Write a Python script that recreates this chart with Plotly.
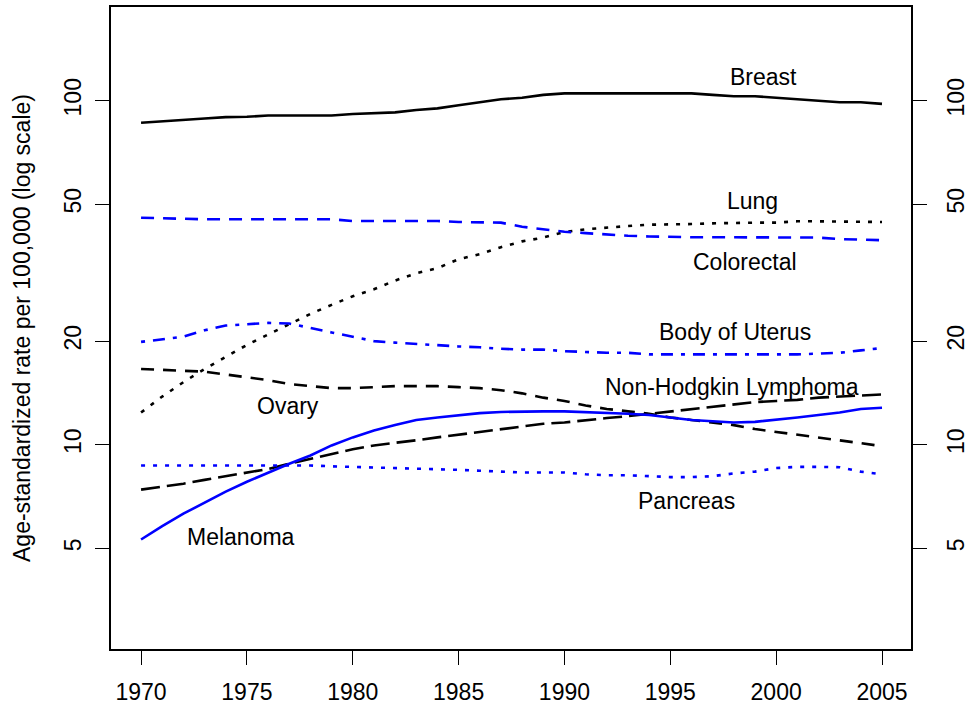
import math
import plotly.graph_objects as go

years = list(range(1970, 2006))

breast = [86.3, 87.0, 88.0, 88.8, 89.6, 89.8, 90.6, 90.6, 90.6, 90.6, 91.5, 91.8, 92.5, 94.0, 95.0,
          97.0, 99.0, 101.0, 102.0, 104.0, 105.0, 105.0, 105.0, 105.0, 105.0, 105.0, 105.0, 104.0,
          103.0, 103.0, 102.0, 101.0, 100.0, 99.0, 99.0, 97.9]
lung = [12.4, 13.8, 15.2, 16.6, 18.0, 19.5, 20.9, 22.4, 24.0, 25.5, 27.0, 28.3, 30.0, 31.5, 32.6,
        34.6, 35.8, 37.5, 39.0, 40.0, 41.5, 42.3, 42.8, 43.2, 43.6, 43.6, 43.8, 44.0, 44.2, 44.2,
        44.2, 44.6, 44.6, 44.6, 44.6, 44.4]
colorectal = [45.7, 45.5, 45.2, 45.2, 45.2, 45.2, 45.2, 45.2, 45.2, 45.2, 44.7, 44.7, 44.7, 44.7, 44.7,
              44.4, 44.2, 44.2, 43.0, 42.2, 41.6, 41.2, 40.8, 40.5, 40.3, 40.1, 40.1, 40.1, 40.1, 40.1,
              40.1, 40.0, 40.0, 39.6, 39.4, 39.3]
uterus = [19.9, 20.2, 20.6, 21.5, 22.2, 22.4, 22.6, 22.5, 21.8, 21.2, 20.6, 20.0, 19.8, 19.6, 19.4,
          19.3, 19.2, 19.0, 18.9, 18.9, 18.7, 18.6, 18.5, 18.5, 18.3, 18.3, 18.3, 18.3, 18.3, 18.3,
          18.3, 18.3, 18.4, 18.5, 18.8, 19.1]
ovary = [16.6, 16.5, 16.4, 16.3, 16.0, 15.7, 15.4, 15.0, 14.8, 14.6, 14.6, 14.7, 14.8, 14.8, 14.8,
         14.7, 14.6, 14.4, 14.1, 13.7, 13.4, 13.0, 12.7, 12.5, 12.3, 12.0, 11.8, 11.6, 11.4, 11.1,
         10.9, 10.7, 10.5, 10.3, 10.1, 9.9]
nhl = [7.4, 7.55, 7.7, 7.9, 8.1, 8.3, 8.5, 8.8, 9.1, 9.4, 9.7, 9.95, 10.1, 10.3, 10.5,
       10.7, 10.9, 11.1, 11.3, 11.5, 11.6, 11.8, 11.95, 12.1, 12.3, 12.5, 12.7, 12.9, 13.1, 13.3,
       13.4, 13.5, 13.7, 13.8, 13.9, 14.0]
melanoma = [5.3, 5.8, 6.3, 6.8, 7.3, 7.8, 8.3, 8.8, 9.3, 9.95, 10.5, 11.0, 11.4, 11.8, 12.0,
            12.2, 12.35, 12.45, 12.5, 12.5, 12.5, 12.45, 12.4, 12.3, 12.2, 12.0, 11.8, 11.7, 11.6, 11.65,
            11.8, 12.0, 12.2, 12.4, 12.7, 12.8]
pancreas = [8.7, 8.7, 8.7, 8.7, 8.7, 8.7, 8.7, 8.7, 8.7, 8.65, 8.62, 8.6, 8.55, 8.5, 8.5,
            8.45, 8.4, 8.35, 8.3, 8.3, 8.3, 8.2, 8.15, 8.15, 8.1, 8.05, 8.05, 8.1, 8.25, 8.35,
            8.55, 8.62, 8.62, 8.6, 8.35, 8.2]

label_names = ["Breast", "Lung", "Colorectal", "Body of Uterus", "Non-Hodgkin Lymphoma",
               "Ovary", "Pancreas", "Melanoma"]
label_x = [1999.4, 1998.9, 1998.55, 1998.07, 1997.9, 1976.92, 1995.77, 1974.74]
label_y = [117.2, 51.2, 34.0, 21.2, 14.67, 12.96, 6.87, 5.39]

y_ticks = [5, 10, 20, 50, 100]
x_ticks = [1970, 1975, 1980, 1985, 1990, 1995, 2000, 2005]

FONT = "Liberation Sans, Arial, sans-serif"
BLUE = "#0000FF"
BLACK = "#000000"
LW = 2.6

series = [
    (breast, BLACK, "solid"),
    (lung, BLACK, "4px,8px"),
    (colorectal, BLUE, "13px,9px"),
    (uterus, BLUE, "4px,8px,12px,8px"),
    (ovary, BLACK, "13px,9px"),
    (nhl, BLACK, "19px,7px"),
    (melanoma, BLUE, "solid"),
    (pancreas, BLUE, "4px,8px"),
]

fig = go.Figure()
for vals, col, dash in series:
    fig.add_trace(go.Scatter(x=years, y=vals, mode="lines",
                             line=dict(color=col, width=LW, dash=dash),
                             showlegend=False, hoverinfo="skip"))

# invisible trace to activate the right-hand axis
fig.add_trace(go.Scatter(x=years, y=breast, mode="lines", yaxis="y2",
                         line=dict(color="rgba(0,0,0,0)", width=0),
                         showlegend=False, hoverinfo="skip"))

for name, lx, ly in zip(label_names, label_x, label_y):
    fig.add_annotation(x=lx, y=math.log10(ly), yref="y", xref="x", text=name, showarrow=False,
                       xanchor="center", yanchor="middle",
                       font=dict(family=FONT, size=23, color=BLACK))

fig.add_annotation(x=0, y=0.5, xref="paper", yref="paper", xshift=-89,
                   text="Age-standardized rate per 100,000 (log scale)", textangle=-90,
                   showarrow=False, xanchor="center", yanchor="middle",
                   font=dict(family=FONT, size=23, color=BLACK))

yrange = [0.406, 2.2724]
common_y = dict(type="log", range=yrange, tickvals=y_ticks, ticktext=[str(v) for v in y_ticks],
                ticks="outside", ticklen=14, tickwidth=1.3, tickcolor=BLACK,
                tickangle=-90, showgrid=False, zeroline=False, automargin=False,
                showline=True, linecolor=BLACK, linewidth=1.6,
                tickfont=dict(family=FONT, size=23, color=BLACK))

fig.update_layout(
    width=970, height=709,
    margin=dict(l=111, r=59, t=7, b=60),
    paper_bgcolor="white", plot_bgcolor="white",
    xaxis=dict(range=[1968.58, 2006.37], tickvals=x_ticks, ticks="outside", ticklen=14,
               tickwidth=1.3, tickcolor=BLACK, showgrid=False, zeroline=False, automargin=False,
               showline=True, mirror=True, linecolor=BLACK, linewidth=1.6,
               ticklabelstandoff=8,
               tickfont=dict(family=FONT, size=23, color=BLACK)),
    yaxis=dict(side="left", ticklabelstandoff=5, **common_y),
    yaxis2=dict(side="right", overlaying="y", ticklabelstandoff=10, **common_y),
)

fig.write_html("out.html", config={"displayModeBar": False},
               post_script="document.body.style.margin='0';document.body.style.overflow='hidden';")
